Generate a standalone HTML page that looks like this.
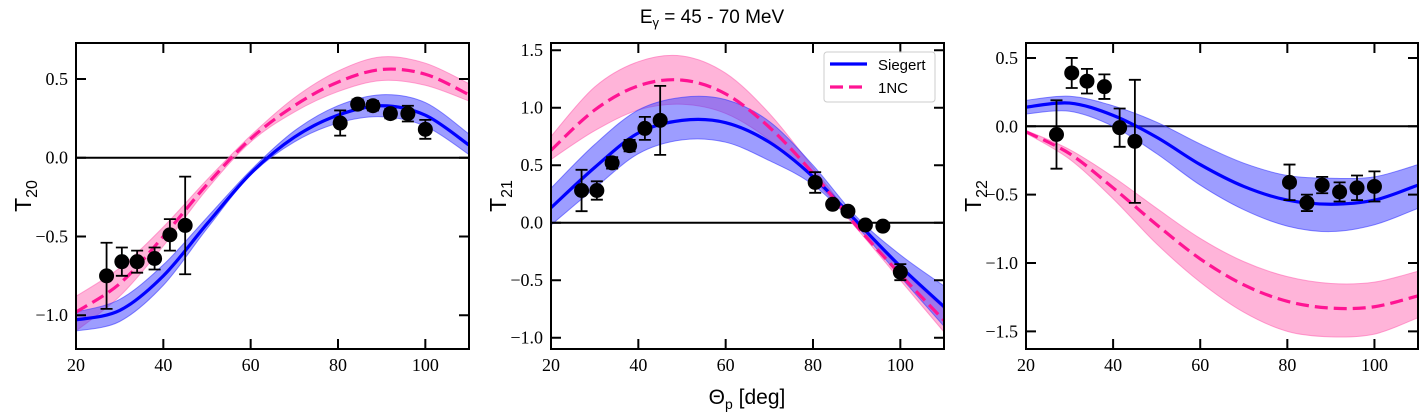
<!DOCTYPE html>
<html><head><meta charset="utf-8">
<style>
html,body{margin:0;padding:0;background:#fff;}
svg{display:block;}
.tick{font-family:"Liberation Serif","DejaVu Serif",serif;font-size:18px;fill:#000;}
.lab{font-family:"Liberation Sans","DejaVu Sans",sans-serif;fill:#000;}
</style></head>
<body>
<svg id="chart" width="1425" height="420" viewBox="0 0 1425 420" xmlns="http://www.w3.org/2000/svg">
<text class="lab" x="712" y="23" font-size="19" text-anchor="middle">E<tspan font-size="13" dy="4">γ</tspan><tspan dy="-4"> = 45 - 70 MeV</tspan></text>
<text class="lab" x="747" y="404" font-size="21" text-anchor="middle">Θ<tspan font-size="14" dy="5">p</tspan><tspan dy="-5"> [deg]</tspan></text>
</svg>
<script>
// shared x data
const dataX = [27, 30.5, 34, 38, 41.5, 45, 80.5, 84.5, 88, 92, 96, 100];
const curveX = [20, 30, 40, 50, 60, 70, 80, 90, 100, 110];
const xTicks = [20, 40, 60, 80, 100];

// panel T20
const t20Y = [-0.75, -0.66, -0.66, -0.64, -0.49, -0.43, 0.22, 0.34, 0.33, 0.28, 0.28, 0.18];
const t20Err = [0.21, 0.09, 0.07, 0.07, 0.10, 0.31, 0.08, 0.03, 0.03, 0.03, 0.05, 0.06];
const t20Sieg = [-1.03, -0.97, -0.75, -0.42, -0.10, 0.13, 0.27, 0.33, 0.27, 0.08];
const t20SiegHi = [-0.98, -0.90, -0.68, -0.38, -0.08, 0.17, 0.33, 0.40, 0.35, 0.15];
const t20SiegLo = [-1.10, -1.04, -0.81, -0.45, -0.11, 0.10, 0.22, 0.26, 0.20, 0.02];
const t20NC = [-0.98, -0.80, -0.50, -0.17, 0.12, 0.33, 0.48, 0.56, 0.53, 0.40];
const t20NCHi = [-0.88, -0.70, -0.44, -0.14, 0.14, 0.38, 0.55, 0.64, 0.60, 0.47];
const t20NCLo = [-1.10, -0.88, -0.56, -0.20, 0.10, 0.29, 0.42, 0.49, 0.46, 0.36];
const t20Ticks = [0.5, 0.0, -0.5, -1.0];
const t20TickLabels = ["0.5", "0.0", "−0.5", "−1.0"];

// panel T21
const t21Y = [0.28, 0.28, 0.52, 0.67, 0.82, 0.89, 0.35, 0.16, 0.10, -0.02, -0.03, -0.43];
const t21Err = [0.18, 0.08, 0.05, 0.05, 0.10, 0.30, 0.09, 0.02, 0.02, 0.02, 0.03, 0.07];
const t21Sieg = [0.13, 0.48, 0.78, 0.89, 0.87, 0.70, 0.40, 0.01, -0.38, -0.73];
const t21SiegHi = [0.30, 0.68, 0.98, 1.09, 1.07, 0.88, 0.50, 0.05, -0.28, -0.55];
const t21SiegLo = [-0.02, 0.30, 0.60, 0.72, 0.70, 0.54, 0.33, -0.03, -0.47, -0.90];
const t21NC = [0.63, 0.98, 1.19, 1.24, 1.12, 0.83, 0.43, -0.03, -0.45, -0.85];
const t21NCHi = [0.75, 1.18, 1.40, 1.45, 1.30, 0.95, 0.48, 0.00, -0.40, -0.75];
const t21NCLo = [0.55, 0.80, 0.98, 1.03, 0.95, 0.72, 0.38, -0.05, -0.50, -0.95];
const t21Ticks = [1.5, 1.0, 0.5, 0.0, -0.5, -1.0];
const t21TickLabels = ["1.5", "1.0", "0.5", "0.0", "−0.5", "−1.0"];

// panel T22
const t22Y = [-0.06, 0.39, 0.33, 0.29, -0.01, -0.11, -0.41, -0.56, -0.43, -0.48, -0.45, -0.44];
const t22Err = [0.25, 0.11, 0.09, 0.09, 0.14, 0.45, 0.13, 0.06, 0.06, 0.07, 0.09, 0.11];
const t22Sieg = [0.14, 0.17, 0.08, -0.08, -0.28, -0.44, -0.54, -0.57, -0.54, -0.43];
const t22SiegHi = [0.19, 0.22, 0.15, 0.03, -0.13, -0.27, -0.36, -0.38, -0.37, -0.28];
const t22SiegLo = [0.09, 0.11, 0.00, -0.20, -0.43, -0.61, -0.73, -0.77, -0.72, -0.60];
const t22NC = [-0.04, -0.20, -0.45, -0.72, -0.97, -1.16, -1.28, -1.33, -1.32, -1.24];
const t22NCHi = [-0.03, -0.17, -0.37, -0.60, -0.82, -0.99, -1.10, -1.15, -1.14, -1.06];
const t22NCLo = [-0.05, -0.24, -0.53, -0.86, -1.14, -1.36, -1.50, -1.54, -1.52, -1.40];
const t22Ticks = [0.5, 0.0, -0.5, -1.0, -1.5];
const t22TickLabels = ["0.5", "0.0", "−0.5", "−1.0", "−1.5"];

const NS = "http://www.w3.org/2000/svg";
const svg = document.getElementById("chart");
function mk(tag, attrs, parent) {
  const e = document.createElementNS(NS, tag);
  for (const k in attrs) e.setAttribute(k, attrs[k]);
  (parent || svg).appendChild(e);
  return e;
}
function spline(pts) {
  let d = "M" + pts[0][0] + "," + pts[0][1];
  for (let i = 0; i < pts.length - 1; i++) {
    const p0 = pts[Math.max(0, i - 1)], p1 = pts[i], p2 = pts[i + 1], p3 = pts[Math.min(pts.length - 1, i + 2)];
    const c1x = p1[0] + (p2[0] - p0[0]) / 6, c1y = p1[1] + (p2[1] - p0[1]) / 6;
    const c2x = p2[0] - (p3[0] - p1[0]) / 6, c2y = p2[1] - (p3[1] - p1[1]) / 6;
    d += " C" + c1x + "," + c1y + " " + c2x + "," + c2y + " " + p2[0] + "," + p2[1];
  }
  return d;
}
function splineRev(pts) {
  const r = pts.slice().reverse();
  return spline(r).replace(/^M/, "L");
}

function panel(cfg) {
  const g = mk("g", {});
  
  
  const L = cfg.L, R = cfg.R, T = 43, B = 349;
  const xs = v => L + (v - 20) / 90 * (R - L);
  const ys = v => cfg.y0 - v * cfg.k;
  const cid = "clip-" + cfg.name;
  const cp = mk("clipPath", { id: cid }, g);
  mk("rect", { x: L, y: T, width: R - L, height: B - T }, cp);
  const pg = mk("g", { "clip-path": "url(#" + cid + ")" }, g);

  const z = mk("line", { x1: L, x2: R, y1: ys(0), y2: ys(0), stroke: "#000", "stroke-width": 2 }, pg);
  
  

  const band = (lo, hi, fill, stroke, name) => {
    const pl = curveX.map((x, i) => [xs(x), ys(lo[i])]);
    const ph = curveX.map((x, i) => [xs(x), ys(hi[i])]);
    const p = mk("path", { d: spline(ph) + " " + splineRev(pl) + " Z", fill: fill, stroke: stroke, "stroke-width": 1 }, pg);
    
    
  };
  band(cfg.ncLo, cfg.ncHi, "rgba(255,105,180,0.5)", "rgba(255,105,180,0.6)", 'band-1nc');
  band(cfg.sLo, cfg.sHi, "rgba(60,60,255,0.5)", "rgba(60,60,255,0.6)", 'band-siegert');

  const s = mk("path", { d: spline(curveX.map((x, i) => [xs(x), ys(cfg.s[i])])), fill: "none", stroke: "#0000ff", "stroke-width": 3.2 }, pg);
  
  
  const n = mk("path", { d: spline(curveX.map((x, i) => [xs(x), ys(cfg.nc[i])])), fill: "none", stroke: "#ff1493", "stroke-width": 3.2, "stroke-dasharray": "13,6" }, pg);
  
  

  dataX.forEach((x, i) => {
    const cx = xs(x), y = cfg.d[i], e = cfg.e[i];
    const eb = mk("path", { d: "M" + cx + "," + ys(y - e) + "V" + ys(y + e) + "M" + (cx - 6) + "," + ys(y - e) + "h12M" + (cx - 6) + "," + ys(y + e) + "h12", stroke: "#000", "stroke-width": 1.8, fill: "none" }, pg);
    
    
    const c = mk("circle", { cx: cx, cy: ys(y), r: 7.5, fill: "#000" }, pg);
    
    
  });

  const fr = mk("rect", { x: L, y: T, width: R - L, height: B - T, fill: "none", stroke: "#000", "stroke-width": 2 }, g);
  
  
  xTicks.forEach(t => {
    const x = xs(t);
    mk("path", { d: "M" + x + "," + B + "v-10M" + x + "," + T + "v10", stroke: "#000", "stroke-width": 2 }, g);
    const tl = mk("text", { class: "tick", x: x, y: B + 22, "text-anchor": "middle" }, g);
    tl.textContent = t;
    
    
  });
  cfg.ticks.forEach((t, i) => {
    const y = ys(t);
    mk("path", { d: "M" + L + "," + y + "h10M" + R + "," + y + "h-10", stroke: "#000", "stroke-width": 2 }, g);
    const tl = mk("text", { class: "tick", x: L - 8, y: y + 6, "text-anchor": "end" }, g);
    tl.textContent = cfg.tl[i];
    
    
  });
  const yl = mk("text", { class: "lab", "font-size": 23, transform: "translate(" + cfg.yl + ",196) rotate(-90)", "text-anchor": "middle" }, g);
  yl.innerHTML = 'T<tspan font-size="16" dy="6">' + cfg.sub + '</tspan>';
  
  
}

panel({ name: "panel-t20", L: 76, R: 469, y0: 157.7, k: 157.5, d: t20Y, e: t20Err, s: t20Sieg, sHi: t20SiegHi, sLo: t20SiegLo, nc: t20NC, ncHi: t20NCHi, ncLo: t20NCLo, ticks: t20Ticks, tl: t20TickLabels, sub: "20", yl: 31 });
panel({ name: "panel-t21", L: 551, R: 944, y0: 222.7, k: 115, d: t21Y, e: t21Err, s: t21Sieg, sHi: t21SiegHi, sLo: t21SiegLo, nc: t21NC, ncHi: t21NCHi, ncLo: t21NCLo, ticks: t21Ticks, tl: t21TickLabels, sub: "21", yl: 506 });
panel({ name: "panel-t22", L: 1026, R: 1418, y0: 126.3, k: 136.7, d: t22Y, e: t22Err, s: t22Sieg, sHi: t22SiegHi, sLo: t22SiegLo, nc: t22NC, ncHi: t22NCHi, ncLo: t22NCLo, ticks: t22Ticks, tl: t22TickLabels, sub: "22", yl: 981 });

const lg = mk("g", {});


mk("rect", { x: 824, y: 52, width: 111, height: 50, rx: 3, fill: "rgba(255,255,255,0.85)", stroke: "#ccc", "stroke-width": 1 }, lg);
const l1 = mk("line", { x1: 830, x2: 867, y1: 64, y2: 64, stroke: "#0000ff", "stroke-width": 3.2 }, lg);


const t1 = mk("text", { class: "lab", x: 878, y: 70, "font-size": 15 }, lg);
t1.textContent = "Siegert";


const l2 = mk("line", { x1: 830, x2: 867, y1: 87, y2: 87, stroke: "#ff1493", "stroke-width": 3.2, "stroke-dasharray": "13,6" }, lg);


const t2 = mk("text", { class: "lab", x: 878, y: 93, "font-size": 15 }, lg);
t2.textContent = "1NC";


</script>
</body></html>
